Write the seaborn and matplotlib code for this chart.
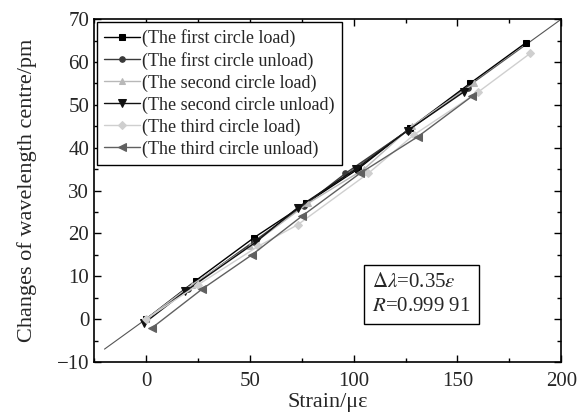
import matplotlib
matplotlib.use("Agg")
import matplotlib.pyplot as plt
import seaborn as sns
import numpy as np
from matplotlib.ticker import MultipleLocator

sns.set_theme(style="ticks")
plt.rcParams['font.family'] = ['Liberation Serif', 'DejaVu Serif']
plt.rcParams['mathtext.fontset'] = 'stix'

# data
first_load_x = [0, 24, 52, 77, 102, 127, 156, 183]
first_load_y = [0, 9, 19, 27, 35, 44.5, 55, 64.5]
first_unload_x = [155, 126, 96, 76, 52, 20, 0]
first_unload_y = [54, 44, 34, 26.5, 18, 7, 0]
second_load_x = [0, 22, 50, 78, 105, 128, 158]
second_load_y = [0, 8, 17, 27, 35, 45, 55]
second_unload_x = [153, 126, 101, 73, 53, 19, -1]
second_unload_y = [53, 44, 35, 26, 18, 6.5, -1]
third_load_x = [0, 25, 54, 73, 107, 129, 160, 185]
third_load_y = [0, 8, 17, 22, 34, 43, 53, 62]
third_unload_x = [157, 131, 103, 75, 51, 27, 3]
third_unload_y = [52, 42.6, 34, 24, 15, 7, -2]
fit_x = [-20, 200]
slope = 0.35

labels = ["(The first circle load)", "(The first circle unload)",
          "(The second circle load)", "(The second circle unload)",
          "(The third circle load)", "(The third circle unload)"]

series = [
    (first_load_x, first_load_y, 's', '#000000', 5),
    (first_unload_x, first_unload_y, 'o', '#3a3a3a', 4),
    (second_load_x, second_load_y, '^', '#b8b8b8', 5),
    (second_unload_x, second_unload_y, 'v', '#111111', 6),
    (third_load_x, third_load_y, 'D', '#cfcfcf', 4),
    (third_unload_x, third_unload_y, '<', '#606060', 6),
]

fig = plt.figure(figsize=(5.81, 4.17), dpi=100)
ax = fig.add_axes([0.162, 0.132, 0.804, 0.822])

fx = np.array(fit_x)
ax.plot(fx, slope * fx, color='#555555', lw=0.8, zorder=1)

for (x, y, m, c, ms), lab in zip(series, labels):
    sns.lineplot(x=x, y=y, sort=False, marker=m, color=c, markersize=ms,
                 markeredgecolor=c, linewidth=1.0, label=lab, ax=ax, zorder=3)

ax.set_xlim(-25, 200)
ax.set_ylim(-10, 70)
ax.xaxis.set_major_locator(MultipleLocator(50))
ax.xaxis.set_minor_locator(MultipleLocator(25))
ax.yaxis.set_major_locator(MultipleLocator(10))
ax.yaxis.set_minor_locator(MultipleLocator(5))
ax.tick_params(which='both', direction='in', top=True, right=True, labelsize=15, color='black')
ax.tick_params(which='major', length=5, width=1)
ax.tick_params(which='minor', length=3, width=1)
ax.tick_params(axis='x', which='major', pad=7)
for s in ax.spines.values():
    s.set_color('black')
    s.set_linewidth(1.2)

ax.set_xlabel("Strain/\u03bc\u03b5", fontsize=16, labelpad=2)
ax.set_ylabel("Changes of wavelength centre/pm", fontsize=16, labelpad=14)

leg = ax.legend(loc='upper left', fontsize=13, frameon=True, fancybox=False,
                edgecolor='black', handlelength=2.0, handletextpad=0.1,
                labelspacing=0.26, borderaxespad=0.15, borderpad=0.4,
                framealpha=1)
leg.get_frame().set_linewidth(1.0)

ax.text(0.595, 0.135, "$\\Delta\\lambda$=0.35$\\varepsilon$\n$R$=0.999 91",
        transform=ax.transAxes, fontsize=15, va='bottom', ha='left',
        linespacing=1.3,
        bbox=dict(boxstyle='square,pad=0.4', fc='white', ec='black', lw=1.0))

fig.savefig("out.png", dpi=100)
